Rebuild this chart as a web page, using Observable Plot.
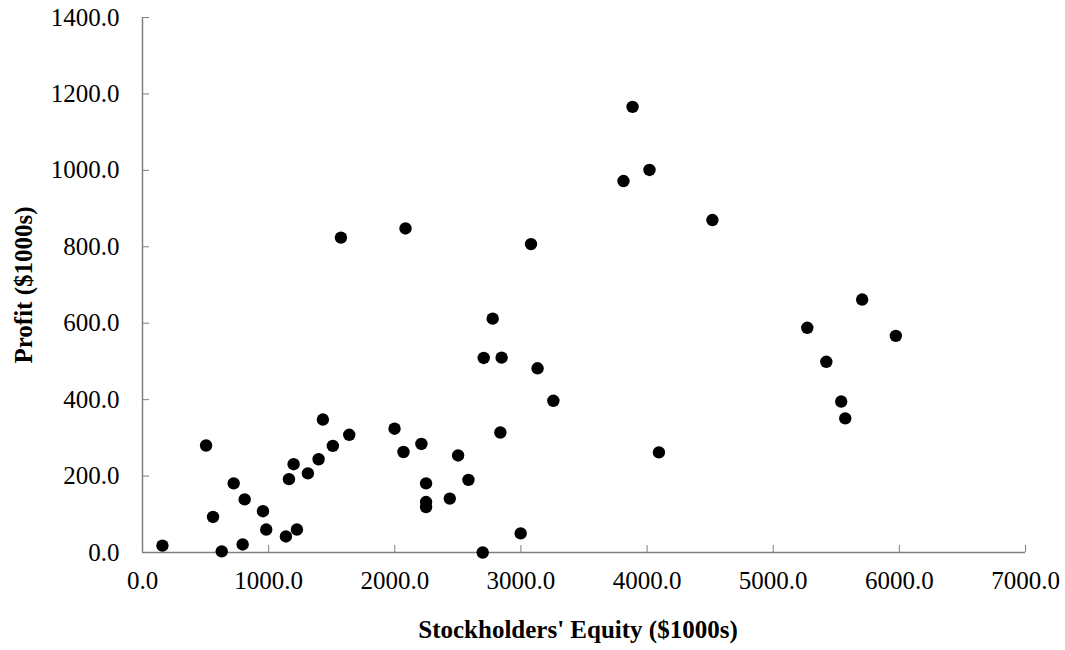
<!DOCTYPE html>
<html>
<head>
<meta charset="utf-8">
<script src="https://cdn.jsdelivr.net/npm/d3@7"></script>
<script src="https://cdn.jsdelivr.net/npm/@observablehq/plot@0.6"></script>
<style>
  html, body { margin: 0; padding: 0; background: #fff; }
</style>
</head>
<body>
<div id="chart"></div>
<script>
const equity = [158, 504, 559, 628, 723, 794, 810, 955, 981, 1137, 1161, 1198, 1224, 1311, 1396, 1430, 1509, 1573, 1639, 1998, 2069, 2085, 2211, 2248, 2248, 2248, 2436, 2502, 2584, 2697, 2705, 2776, 2837, 2847, 2998, 3080, 3132, 3257, 3813, 3885, 4019, 4094, 4518, 5270, 5421, 5539, 5571, 5705, 5972];
const profit = [18, 280, 93, 3, 181, 21, 139, 108, 60, 42, 192, 231, 60, 207, 244, 348, 279, 824, 308, 324, 263, 848, 284, 181, 132, 119, 141, 254, 190, 0, 509, 612, 314, 510, 50, 807, 482, 397, 972, 1166, 1001, 262, 870, 588, 499, 395, 351, 662, 567];
const xTicks = [0, 1000, 2000, 3000, 4000, 5000, 6000, 7000];
const yTicks = [0, 200, 400, 600, 800, 1000, 1200, 1400];
const xTitle = "Stockholders' Equity ($1000s)";
const yTitle = "Profit ($1000s)";

const data = equity.map((e, i) => ({equity: e, profit: profit[i]}));
const fmt = d3.format(".1f");

const W = 1065, H = 650;
const mL = 142, mR = 40, mT = 17, mB = 98;
const plotW = W - mL - mR, plotH = H - mT - mB;
const tickLen = 7;

const chart = Plot.plot({
  width: W,
  height: H,
  marginLeft: mL,
  marginRight: mR,
  marginTop: mT,
  marginBottom: mB,
  style: {fontFamily: "'Liberation Serif', 'Times New Roman', serif", fontSize: "25px", color: "#000", background: "#fff"},
  x: {domain: [0, 7000]},
  y: {domain: [0, 1400]},
  marks: [
    Plot.axisX(xTicks, {tickSize: 0, tickPadding: 19, tickFormat: fmt, label: null, fontSize: 25}),
    Plot.axisY(yTicks, {tickSize: 0, tickPadding: 23, tickFormat: fmt, label: null, fontSize: 25}),
    Plot.tickX(xTicks, {x: d => d, insetTop: plotH - tickLen, stroke: "#808080"}),
    Plot.tickY(yTicks, {y: d => d, insetRight: plotW - tickLen, stroke: "#808080"}),
    Plot.ruleX([0], {stroke: "#808080", strokeWidth: 1.5}),
    Plot.ruleY([0], {stroke: "#808080", strokeWidth: 1.5}),
    Plot.dot(data, {x: "equity", y: "profit", r: 6.2, fill: "#000", stroke: null}),
    Plot.text([xTitle], {frameAnchor: "bottom", dy: 85, dx: -6, textAnchor: "middle", fontWeight: "bold", fontSize: 25, fill: "#000"}),
    Plot.text([yTitle], {frameAnchor: "left", dx: -119, textAnchor: "middle", rotate: -90, fontWeight: "bold", fontSize: 25, fill: "#000"})
  ]
});
document.getElementById("chart").appendChild(chart);
</script>
</body>
</html>
